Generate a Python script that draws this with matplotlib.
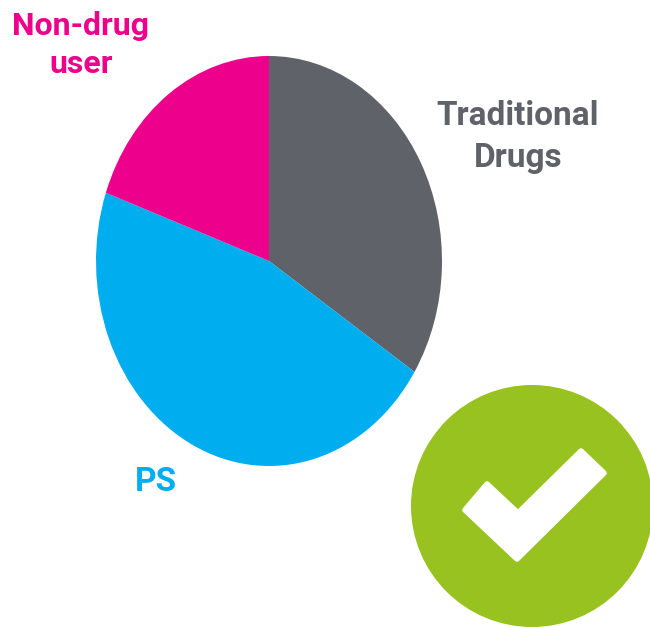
import matplotlib
matplotlib.use("Agg")
import matplotlib.pyplot as plt
from matplotlib.patches import Circle, Polygon

categories = ["Traditional\nDrugs", "PS", "Non-drug\nuser"]
values = [34.1, 46.3, 19.6]
colors = ["#5f6369", "#00adef", "#ec008c"]

W, H = 650, 627
fig = plt.figure(figsize=(W / 100, H / 100), dpi=100, facecolor="white")

# Elliptical pie: stretched axes
ax = fig.add_axes([(269 - 173) / W, (H - 466) / H, 346 / W, 410 / H])
ax.pie(values, colors=colors, startangle=90, counterclock=False, radius=1,
       wedgeprops=dict(linewidth=0))
ax.set_aspect("auto")
ax.set_xlim(-1, 1)
ax.set_ylim(-1, 1)

# Overlay in pixel coordinates
ov = fig.add_axes([0, 0, 1, 1], facecolor="none")
ov.set_xlim(0, W)
ov.set_ylim(H, 0)
ov.axis("off")

fam = ["Roboto", "DejaVu Sans"]
label_style = [(518, 137, 24, 1.38), (156, 482, 24, 1.2), (81, 45, 23, 1.32)]
for cat, col, (x, y, fs, ls) in zip(categories, colors, label_style):
    ov.text(x, y, cat, color=col, ha="center", va="center", family=fam,
            fontsize=fs, fontweight="bold", linespacing=ls)

ov.add_patch(Circle((532, 506), 121, facecolor="#97c21f", edgecolor="none"))
ov.add_patch(Polygon([(465, 510), (487, 484), (518, 513), (581, 451), (604, 473),
                      (517, 559)], closed=True, facecolor="white", edgecolor="white",
                     linewidth=4, joinstyle="round"))

fig.savefig("out.png", dpi=100)
